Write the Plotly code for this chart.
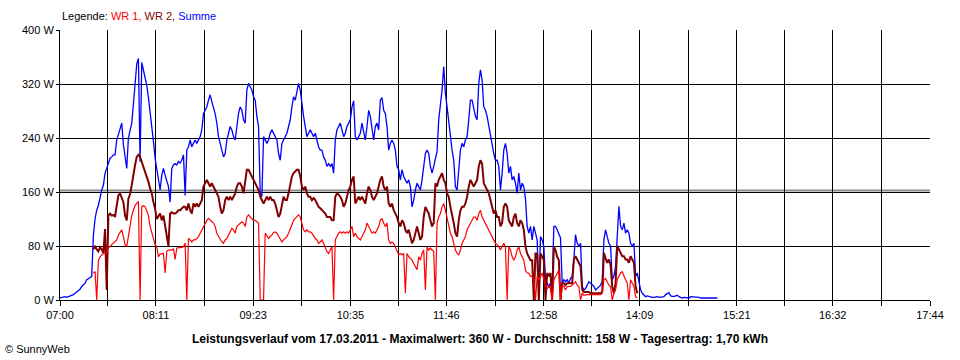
import plotly.graph_objects as go

# ---------------- data ----------------
START_LABEL = "07:00"
SAMPLE_SECONDS = 74.1  # logger sample spacing

SUMME = [
    3, 4, 4, 5, 4, 5, 5, 6, 8, 10, 12, 14, 16, 20, 22, 25, 30, 31, 33, 35,
    95, 120, 133, 140, 153, 163, 170, 188, 195, 202, 210, 212, 215, 215, 237, 245, 255, 262, 230, 208,
    195, 240, 250, 262, 290, 320, 350, 358, 205, 352, 340, 330, 318, 300, 280, 262, 235, 210, 195, 178,
    163, 185, 195, 185, 178, 168, 145, 195, 200, 202, 200, 205, 203, 207, 215,
    155, 222, 227, 237, 227, 232, 237, 232, 237, 242, 252, 276, 281, 286, 296, 304, 294, 286, 276, 262,
    242, 232, 222, 212, 217, 237, 247, 257, 252, 242, 237, 262, 276, 286, 281, 267, 262, 311, 321, 316,
    311, 301, 296, 272, 257, 158, 153, 242, 237, 232, 237, 247, 252, 247, 242, 237, 217, 207, 232, 237,
    242, 247, 257, 267, 286, 301, 296, 311, 321, 311, 286, 272, 257, 242, 247,
    252, 247, 242, 247, 237, 227, 222, 222, 212, 207, 198, 202, 198, 202, 188, 237, 252, 257, 262, 252,
    242, 247, 257, 262, 267, 286, 295, 242, 237, 242, 247, 262, 247, 237, 257, 281, 272, 252, 237, 257,
    262, 252, 296, 300, 281, 276, 257, 222, 232, 237, 232, 222, 198, 193, 178, 193, 183, 178, 173, 178,
    168, 138, 148, 163, 173, 168, 163, 178, 198, 217, 222, 217, 198, 188, 198,
    207, 220, 267, 290, 311, 346, 306, 286, 262, 237, 222, 207, 168, 163, 198, 222, 232, 227, 237, 242,
    267, 296, 296, 281, 272, 267, 321, 341, 326, 286, 281, 272, 257, 242, 227, 217, 207, 207, 198, 163,
    188, 222, 232, 217, 188, 198, 178, 183, 173, 158, 188, 163, 173, 168, 150, 109, 99, 109, 89, 109,
    99, 89, 10, 94, 89, 79, 30, 25, 20, 25, 20, 109, 109, 104, 99,
    92, 25, 30, 27, 30, 25, 32, 35, 60, 97, 84, 80, 84, 20, 15, 17, 22, 27, 25, 22,
    20, 15, 17, 20, 22, 27, 89, 104, 94, 84, 80, 30, 35, 50, 94, 139, 109, 104, 114, 99,
    104, 99, 84, 80, 84, 35, 40, 25, 15, 10, 7, 5, 6, 5, 5, 4, 4, 5, 5, 4,
    4, 5, 5, 8, 10, 11, 6, 5, 5, 6, 7, 5, 4, 3, 4, 4, 3, 3, 5, 5,
    4, 4, 4, 4, 3, 3, 3, 3, 3, 3, 3, 3, 3, 3, 3,
]

WR1 = [None] * 20 + [
    40, 42, 0, 58, 64, 66, 69, 69, 70, 78, 79, 82, 84, 86, 89, 96, 101, 104, 94, 82,
    79, 94, 110, 125, 133, 140, 143, 146, 0, 138, 140, 138, 132, 125, 109, 100, 89, 82, 79, 64,
    68, 69, 69, 40, 72, 74, 74, 74, 76, 60, 77, 77, 77, 78, 79,
    84, 0, 91, 89, 86, 89, 89, 91, 94, 99, 104, 109, 114, 118, 121, 118, 116, 114, 109, 99,
    94, 89, 86, 84, 89, 91, 96, 101, 106, 104, 99, 109, 111, 114, 116, 114, 109, 123, 126, 123,
    121, 118, 118, 116, 114, 0, 0, 0, 99, 94, 91, 94, 96, 100, 101, 99, 94, 89, 86, 89,
    91, 94, 99, 106, 114, 118, 121, 123, 126, 123, 114, 104, 101, 104, 101,
    101, 99, 94, 91, 89, 84, 86, 89, 84, 77, 72, 69, 74, 79, 0, 89, 94, 99, 101, 99,
    101, 99, 101, 99, 104, 109, 94, 99, 94, 91, 89, 94, 99, 104, 114, 109, 104, 99, 101, 99,
    104, 109, 118, 121, 114, 109, 114, 89, 84, 86, 84, 79, 74, 67, 69, 67, 69, 10, 69, 64,
    62, 59, 54, 49, 45, 64, 59, 69, 74, 15, 79, 74, 77, 74, 72,
    0, 114, 123, 128, 138, 143, 133, 123, 109, 99, 94, 84, 74, 69, 67, 74, 84, 89, 94, 104,
    109, 114, 118, 123, 123, 118, 128, 133, 123, 118, 114, 109, 104, 99, 94, 89, 84, 82, 79, 74,
    79, 84, 79, 0, 79, 74, 64, 59, 64, 74, 79, 69, 64, 59, 44, 40, 40, 35, 35, 30,
    0, 35, 30, 35, 40, 30, 20, 17, 20, 17, 0, 30, 35, 40, 44,
    0, 22, 20, 15, 20, 20, 20, 22, 25, 27, 22, 20, 0, 10, 7, 8, 8, 8, 8, 8,
    8, 8, 8, 8, 8, 10, 30, 32, 27, 22, 20, 0, 10, 15, 30, 35, 40, 42, 35, 30,
    25, 0, 30, 25, 20, 5, 3,
] + [None] * 48

WR2 = [None] * 20 + [
    75, 80, 75, 72, 78, 75, 70, 105, 15, 125, 128, 125, 126, 123, 140, 155, 158, 152, 145, 125,
    118, 150, 157, 170, 188, 200, 212, 215, 212, 205, 198, 192, 185, 175, 165, 158, 145, 135, 120, 125,
    128, 118, 125, 110, 95, 80, 128, 130, 128, 128, 130, 133, 133, 135, 138,
    138, 133, 143, 133, 128, 143, 138, 143, 138, 143, 148, 168, 173, 178, 173, 168, 173, 168, 163, 158,
    153, 138, 128, 133, 148, 153, 148, 153, 148, 153, 158, 168, 173, 173, 168, 158, 178, 193, 193, 188,
    183, 178, 173, 168, 163, 153, 148, 143, 148, 153, 148, 153, 148, 148, 143, 133, 123, 128, 143, 153,
    148, 148, 158, 173, 183, 188, 190, 193, 193, 183, 168, 163, 168, 158, 153,
    153, 148, 151, 148, 143, 138, 136, 133, 131, 128, 123, 123, 123, 118, 118, 153, 158, 156, 153, 148,
    138, 143, 153, 163, 168, 178, 183, 143, 148, 153, 148, 153, 148, 143, 158, 168, 163, 153, 148, 153,
    158, 168, 178, 183, 168, 163, 168, 143, 138, 143, 133, 128, 123, 114, 109, 118, 114, 104, 99, 104,
    94, 84, 89, 99, 109, 99, 89, 94, 123, 138, 133, 128, 118, 109, 114,
    173, 168, 178, 183, 188, 178, 173, 158, 153, 138, 128, 114, 99, 94, 118, 133, 138, 138, 143, 153,
    168, 178, 173, 168, 173, 178, 198, 207, 202, 173, 168, 163, 158, 148, 138, 128, 133, 123, 123, 109,
    114, 138, 143, 138, 118, 114, 109, 123, 128, 114, 109, 118, 114, 104, 79, 69, 64, 59, 59, 0,
    69, 69, 0, 69, 64, 59, 0, 40, 35, 40, 0, 79, 74, 64, 59,
    0, 25, 25, 22, 25, 25, 25, 25, 60, 65, 60, 55, 50, 15, 12, 12, 12, 12, 10, 10,
    10, 10, 10, 10, 10, 12, 70, 62, 55, 60, 52, 20, 10, 25, 80, 75, 70, 65, 65, 60,
    60, 55, 65, 60, 55, 20, 10,
] + [None] * 48

X_TICK_LABELS = ["07:00", "08:11", "09:23", "10:35", "11:46",
                 "12:58", "14:09", "15:21", "16:32", "17:44"]
Y_TICKS = [0, 80, 160, 240, 320, 400]
LEGEND_PARTS = [("Legende: ", "#000000"), ("WR 1, ", "#FF0000"),
                ("WR 2, ", "#800000"), ("Summe", "#0000FF")]
TITLE = ("Leistungsverlauf vom 17.03.2011 - Maximalwert: 360 W - "
         "Durchschnitt: 158 W - Tagesertrag: 1,70 kWh")
COPYRIGHT = "\u00a9 SunnyWeb"

# ---------------- helpers ----------------
def to_min(label):
    h, m = label.split(":")
    return int(h) * 60 + int(m)

t0 = to_min(START_LABEL)
n = len(SUMME)
t = [i * SAMPLE_SECONDS / 60.0 for i in range(n)]  # minutes after 07:00

major = [to_min(l) - t0 for l in X_TICK_LABELS]
tickvals, ticktext = [], []
for i, v in enumerate(major):
    tickvals.append(v)
    ticktext.append(X_TICK_LABELS[i])
    if i < len(major) - 1:
        tickvals.append((v + major[i + 1]) / 2)
        ticktext.append("")

FONT = "Liberation Sans, Arial, sans-serif"
L, R, T, B = 60, 30, 30, 60
PW = 960 - L - R

fig = go.Figure()
fig.add_trace(go.Scatter(x=t, y=SUMME, mode="lines", name="Summe",
                         line=dict(color="#0000FF", width=1.3), connectgaps=False))
fig.add_trace(go.Scatter(x=t, y=WR2, mode="lines", name="WR 2",
                         line=dict(color="#800000", width=2), connectgaps=False))
fig.add_trace(go.Scatter(x=t, y=WR1, mode="lines", name="WR 1",
                         line=dict(color="#FF0000", width=1.2), connectgaps=False))

# gray double line just above the 160 W grid line
fig.add_shape(type="line", xref="x", yref="y", x0=major[0], x1=major[-1],
              ysizemode="pixel", yanchor=160, y0=1.5, y1=1.5,
              line=dict(color="#8c8c8c", width=2), layer="below")

fig.update_layout(
    width=960, height=360,
    margin=dict(l=L, r=R, t=T, b=B, autoexpand=False),
    paper_bgcolor="white", plot_bgcolor="white",
    showlegend=False, hovermode=False,
    font=dict(family=FONT, size=11, color="black"),
    xaxis=dict(range=[major[0], major[-1]], tickmode="array",
               tickvals=tickvals, ticktext=ticktext, automargin=False,
               showgrid=True, gridcolor="black", gridwidth=1,
               zeroline=False, showline=True, linecolor="black", linewidth=1,
               ticks="outside", ticklen=5, tickcolor="black", tickwidth=1,
               tickfont=dict(size=11, family=FONT, color="black")),
    yaxis=dict(range=[0, 400], tickmode="array", tickvals=Y_TICKS,
               ticktext=[f"{v} W" for v in Y_TICKS], automargin=False,
               showgrid=True, gridcolor="black", gridwidth=1,
               zeroline=False, showline=True, linecolor="black", linewidth=1,
               ticks="outside", ticklen=3, tickcolor="black", tickwidth=1,
               tickfont=dict(size=11, family=FONT, color="black")),
)

legend_html = "".join(f"<span style='color:{c}'>{s}</span>" for s, c in LEGEND_PARTS)
fig.add_annotation(text=legend_html, xref="paper", yref="paper", x=0, y=1,
                   xanchor="left", yanchor="bottom", yshift=6, xshift=0,
                   showarrow=False, font=dict(size=11, family=FONT))
fig.add_annotation(text=f"<b>{TITLE}</b>", xref="paper", yref="paper",
                   x=(480 - L) / PW, y=0, xanchor="center", yanchor="top",
                   yshift=-30, showarrow=False, font=dict(size=12, family=FONT))
fig.add_annotation(text=COPYRIGHT, xref="paper", yref="paper",
                   x=-L / PW, y=0, xanchor="left", yanchor="top", xshift=3,
                   yshift=-41, showarrow=False, font=dict(size=11, family=FONT))

# remove the page's default 8px body margin so the figure sits at (0, 0)
fig.write_html("out.html", config={"displayModeBar": False},
               post_script="document.body.style.margin='0';")
